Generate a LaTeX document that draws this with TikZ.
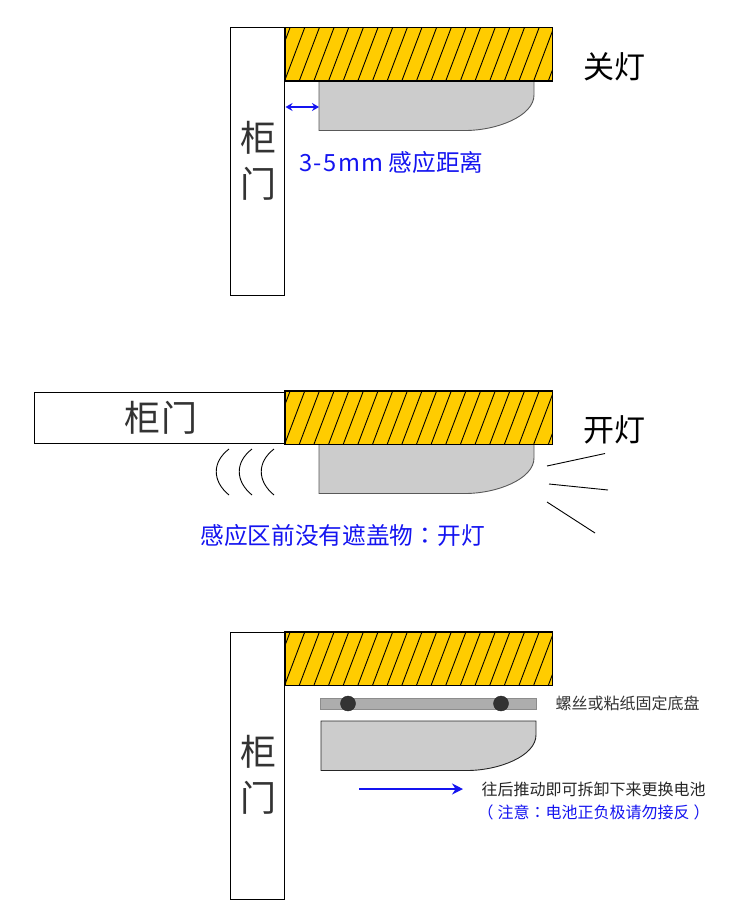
\documentclass[tikz,border=0pt]{standalone}
\usepackage{fontspec}
\setmainfont{Noto Sans CJK SC}
\newfontfamily\puncfont{Noto Sans CJK TC}
\usetikzlibrary{arrows.meta}
\definecolor{wallyellow}{HTML}{FFCC00}
\definecolor{lampgray}{HTML}{CCCCCC}
\definecolor{darktext}{HTML}{333333}
\definecolor{labelblue}{HTML}{1414F0}

% hatch lines over a wall node, then its frame again
\newcommand{\hatchwall}[1]{%
  \begin{scope}
    \clip (#1.south west) rectangle (#1.north east);
    \foreach \i in {-1,...,18}
      \draw[hatch] ([xshift=\i*14.65pt]#1.south west) -- ++(20,-53);
  \end{scope}
  \draw[thick] (#1.south west) rectangle (#1.north east);
}
\newcommand{\lampbody}[3]{%
  \draw[lamp,#3] (#1,#2) -- ({#1+215},#2) -- ({#1+215},{#2+14})
    .. controls ({#1+215},{#2+35}) and ({#1+178},{#2+49.5}) .. ({#1+146},{#2+49.5}) -- (#1,{#2+49.5}) -- cycle;
}

\begin{document}
\begin{tikzpicture}[
  x=1pt, y=-1pt,
  doorbox/.style={draw, thick, fill=white, inner sep=0pt, minimum width=#1},
  wallbox/.style={draw, thick, fill=wallyellow, inner sep=0pt, minimum width=267pt, minimum height=53pt},
  hatch/.style={line width=0.9pt},
  lamp/.style={draw=black!65, line width=0.9pt, fill=lampgray},
  doorlab/.style={font=\fontsize{36}{46}\selectfont, text=darktext, align=center, inner sep=0pt},
  statelab/.style={font=\fontsize{31}{36}\selectfont, text=black, inner sep=0pt},
  bluelab/.style={font=\fontsize{23.7}{28}\selectfont, text=labelblue, inner sep=0pt},
  smalllab/.style={font=\fontsize{16}{19}\selectfont, inner sep=0pt},
  ray/.style={line width=0.9pt},
  bluearrow/.style={-{Stealth[length=11pt,width=11pt]}, labelblue, line width=1.6pt}]

\useasboundingbox (0,0) rectangle (750,924);

% top: door closed
\node[doorbox=54pt, minimum height=268pt] (doorA) at (257.5,161) {};
\node[doorlab] (doorAlab) at (258,161) {柜\\门};
\lampbody{319}{81}{}
\node[wallbox] (wallA) at (418.5,54) {};
\hatchwall{wallA}
\coordinate (gapA) at (285.5,107);
\coordinate (lampA) at (319,107);
\draw[{Stealth[length=7pt,width=8pt]}-{Stealth[length=7pt,width=8pt]}, labelblue, line width=1.3pt] (gapA) -- (lampA);
\node[statelab] (offlab) at (614,67) {关灯};
\node[bluelab] (gaplab) at (391.5,162) {{\addfontfeature{LetterSpace=6}3-5mm} 感应距离};

% middle: door open
\node[doorbox=250pt, minimum height=51pt] (doorB) at (159.5,417.5) {};
\node[doorlab] (doorBlab) at (161,418) {柜\kern2pt 门};
\lampbody{319}{444}{}
\node[wallbox] (wallB) at (418.5,417.5) {};
\hatchwall{wallB}
\foreach \x [count=\n] in {229,252,274}
  \draw[ray] (\x,449) .. controls (\x-17,462) and (\x-17,481) .. (\x,495);
\coordinate (rayAs) at (547,466);
\coordinate (rayAe) at (605,453.5);
\coordinate (rayBs) at (549,484);
\coordinate (rayBe) at (608,490);
\coordinate (rayCs) at (547,502);
\coordinate (rayCe) at (595,533);
\draw[ray] (rayAs) -- (rayAe);
\draw[ray] (rayBs) -- (rayBe);
\draw[ray] (rayCs) -- (rayCe);
\node[statelab] (onlab) at (614,430) {开灯};
\node[bluelab] (zonelab) at (342.5,535) {感应区前没有遮盖物{\puncfont ：}开灯};

% bottom: taking the lamp off
\node[doorbox=54pt, minimum height=267pt] (doorC) at (257.5,765.5) {};
\node[doorlab] (doorClab) at (258,775) {柜\\门};
\node[wallbox] (wallC) at (418.5,658.5) {};
\hatchwall{wallC}
\node[draw=black!45, fill=black!32, inner sep=0pt, minimum width=216pt, minimum height=11pt] (plate) at (428,703.5) {};
\node[circle, draw=black!85, fill=darktext, inner sep=0pt, minimum size=15pt] (screwA) at (348,703.5) {};
\node[circle, draw=black!85, fill=darktext, inner sep=0pt, minimum size=15pt] (screwB) at (501,703.5) {};
\lampbody{321}{721}{draw=black!85}
\node[smalllab, text=darktext] (platelab) at (627.5,703.5) {螺丝或粘纸固定底盘};
\coordinate (pushs) at (359,789);
\coordinate (pushe) at (463,789);
\draw[bluearrow] (pushs) -- (pushe);
\node[smalllab, text=black!85] (pushlab) at (593.5,789) {往后推动即可拆卸下来更换电池};
\node[smalllab, text=labelblue] (notelab) at (593.5,812) {{\puncfont （}\kern4pt 注意{\puncfont ：}电池正负极请勿接反\kern4pt{\puncfont ）}};
\end{tikzpicture}
\end{document}
